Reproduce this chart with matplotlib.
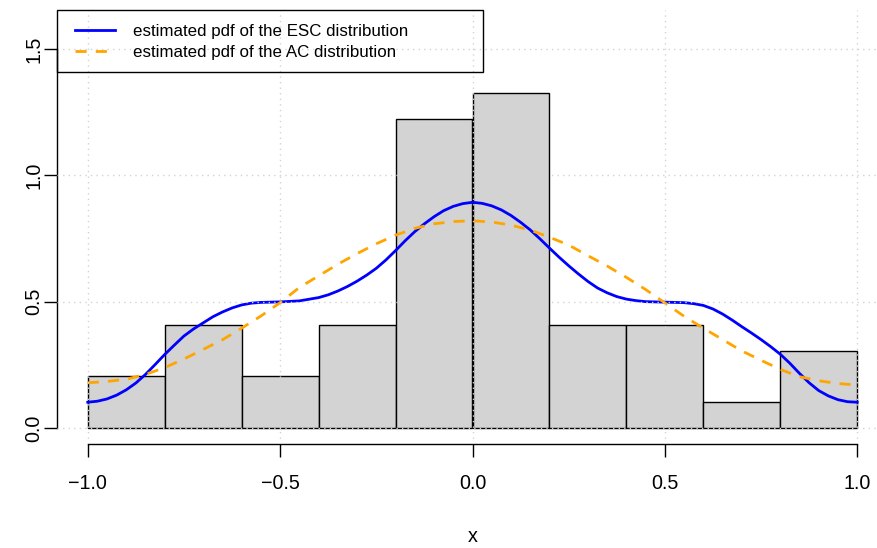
import matplotlib
matplotlib.use("Agg")
import matplotlib.pyplot as plt
from matplotlib.patches import Rectangle
import numpy as np

plt.rcParams['font.family'] = ['Liberation Sans', 'DejaVu Sans']

# histogram: counts per bin of width 0.2 on [-1, 1]
bin_edges = [-1.0, -0.8, -0.6, -0.4, -0.2, 0.0, 0.2, 0.4, 0.6, 0.8, 1.0]
bin_counts = [2, 4, 2, 4, 12, 13, 4, 4, 1, 3]

# estimated densities
esc_x = [-1.000, -0.975, -0.950, -0.925, -0.900, -0.875, -0.850, -0.825, -0.800, -0.775,
         -0.750, -0.725, -0.700, -0.675, -0.650, -0.625, -0.600, -0.575, -0.550, -0.500,
         -0.450, -0.400, -0.375, -0.350, -0.325, -0.300, -0.275, -0.250, -0.225, -0.200,
         -0.175, -0.150, -0.125, -0.100, -0.075, -0.050, -0.025, 0.000,
         0.025, 0.050, 0.075, 0.100, 0.125, 0.150, 0.175, 0.200, 0.225, 0.250,
         0.275, 0.300, 0.325, 0.350, 0.375, 0.400, 0.425, 0.450, 0.500, 0.550,
         0.575, 0.600, 0.625, 0.650, 0.675, 0.700, 0.725, 0.750, 0.775, 0.800,
         0.825, 0.850, 0.875, 0.900, 0.925, 0.950, 0.975, 1.000]
esc_pdf = [0.102, 0.106, 0.115, 0.130, 0.151, 0.178, 0.212, 0.251, 0.291, 0.328,
           0.364, 0.392, 0.416, 0.440, 0.459, 0.475, 0.487, 0.494, 0.497, 0.499,
           0.503, 0.516, 0.527, 0.542, 0.560, 0.581, 0.605, 0.632, 0.665, 0.702,
           0.741, 0.777, 0.808, 0.836, 0.860, 0.877, 0.888, 0.893,
           0.889, 0.879, 0.863, 0.841, 0.814, 0.784, 0.749, 0.712, 0.676, 0.642,
           0.610, 0.580, 0.554, 0.535, 0.520, 0.510, 0.504, 0.500, 0.498, 0.496,
           0.492, 0.485, 0.471, 0.451, 0.427, 0.401, 0.376, 0.350, 0.322, 0.292,
           0.256, 0.216, 0.179, 0.148, 0.127, 0.112, 0.104, 0.102]

ac_x = [-1.00, -0.95, -0.90, -0.85, -0.80, -0.75, -0.70, -0.65, -0.60, -0.55,
        -0.50, -0.45, -0.40, -0.35, -0.30, -0.25, -0.20, -0.15, -0.10, -0.05,
        0.00, 0.05, 0.10, 0.15, 0.20, 0.25, 0.30, 0.35, 0.40, 0.45,
        0.50, 0.55, 0.60, 0.65, 0.70, 0.75, 0.80, 0.85, 0.90, 0.95, 1.00]
ac_pdf = [0.179, 0.184, 0.193, 0.212, 0.239, 0.273, 0.311, 0.349, 0.395, 0.443,
          0.496, 0.556, 0.602, 0.648, 0.690, 0.729, 0.763, 0.790, 0.808, 0.817,
          0.820, 0.815, 0.803, 0.783, 0.755, 0.724, 0.682, 0.641, 0.596, 0.548,
          0.495, 0.442, 0.395, 0.350, 0.305, 0.268, 0.232, 0.203, 0.187, 0.176, 0.170]

labels = ['estimated pdf of the ESC distribution',
          'estimated pdf of the AC distribution']
x_ticks = [-1.0, -0.5, 0.0, 0.5, 1.0]
y_ticks = [0.0, 0.5, 1.0, 1.5]

edges = np.array(bin_edges)
counts = np.array(bin_counts)
widths = np.diff(edges)
density = counts / (counts.sum() * widths)

W, H = 877, 548
fig = plt.figure(figsize=(W / 100, H / 100), dpi=100)
# plot region runs past the right edge of the image, like the reference crop
ax = fig.add_axes([57 / W, 1 - 444 / H, (888 - 57) / W, (444 - 10) / H])

ax.bar(edges[:-1], density, width=widths, align='edge', color='#d3d3d3',
       edgecolor='black', linewidth=1.0, zorder=2)

ax.plot(esc_x, esc_pdf, color='blue', lw=2, zorder=3, label=labels[0])
ax.plot(ac_x, ac_pdf, color='orange', lw=2, dashes=(4, 3.3), zorder=3,
        label=labels[1])

# R style grid(): dotted lightgray drawn over everything
for xv in x_ticks:
    ax.axvline(xv, color='#d3d3d3', lw=1, ls=(0, (1, 3)), zorder=5)
for yv in y_ticks:
    ax.axhline(yv, color='#d3d3d3', lw=1, ls=(0, (1, 3)), zorder=5)

ax.set_xlim(-1.08, 1.08)
ax.set_ylim(-0.0633, 1.654)
ax.set_xticks(x_ticks)
ax.set_yticks(y_ticks)
ax.set_xticklabels(['\u22121.0', '\u22120.5', '0.0', '0.5', '1.0'])
ax.set_yticklabels(['0.0', '0.5', '1.0', '1.5'], rotation=90, va='center')

for s in ['top', 'right']:
    ax.spines[s].set_visible(False)
ax.spines['left'].set_bounds(0, 1.5)
ax.spines['bottom'].set_bounds(-1, 1)
ax.spines['left'].set_linewidth(1)
ax.spines['bottom'].set_linewidth(1)
ax.tick_params(direction='out', length=9.4, width=1, labelsize=14.2)
ax.tick_params(axis='x', pad=12.5)
ax.tick_params(axis='y', pad=0.5)

ax.set_xlabel('x', fontsize=14.2, labelpad=24)
ax.set_facecolor('none')

# R legend: box wider than its text
leg_w = (483 - 57) / 831
leg_h = (72 - 10) / 434
ax.add_patch(Rectangle((0, 1 - leg_h), leg_w, leg_h, transform=ax.transAxes,
                       fill=False, edgecolor='black', lw=1, clip_on=False, zorder=6))
leg = ax.legend(loc='upper left', bbox_to_anchor=(18 / 831, 1 - 14 / 434),
                borderaxespad=0, borderpad=0, frameon=False, fontsize=12.15,
                handlelength=2.37, handletextpad=1.07, labelspacing=0.33)

fig.savefig('out.png', dpi=100)
